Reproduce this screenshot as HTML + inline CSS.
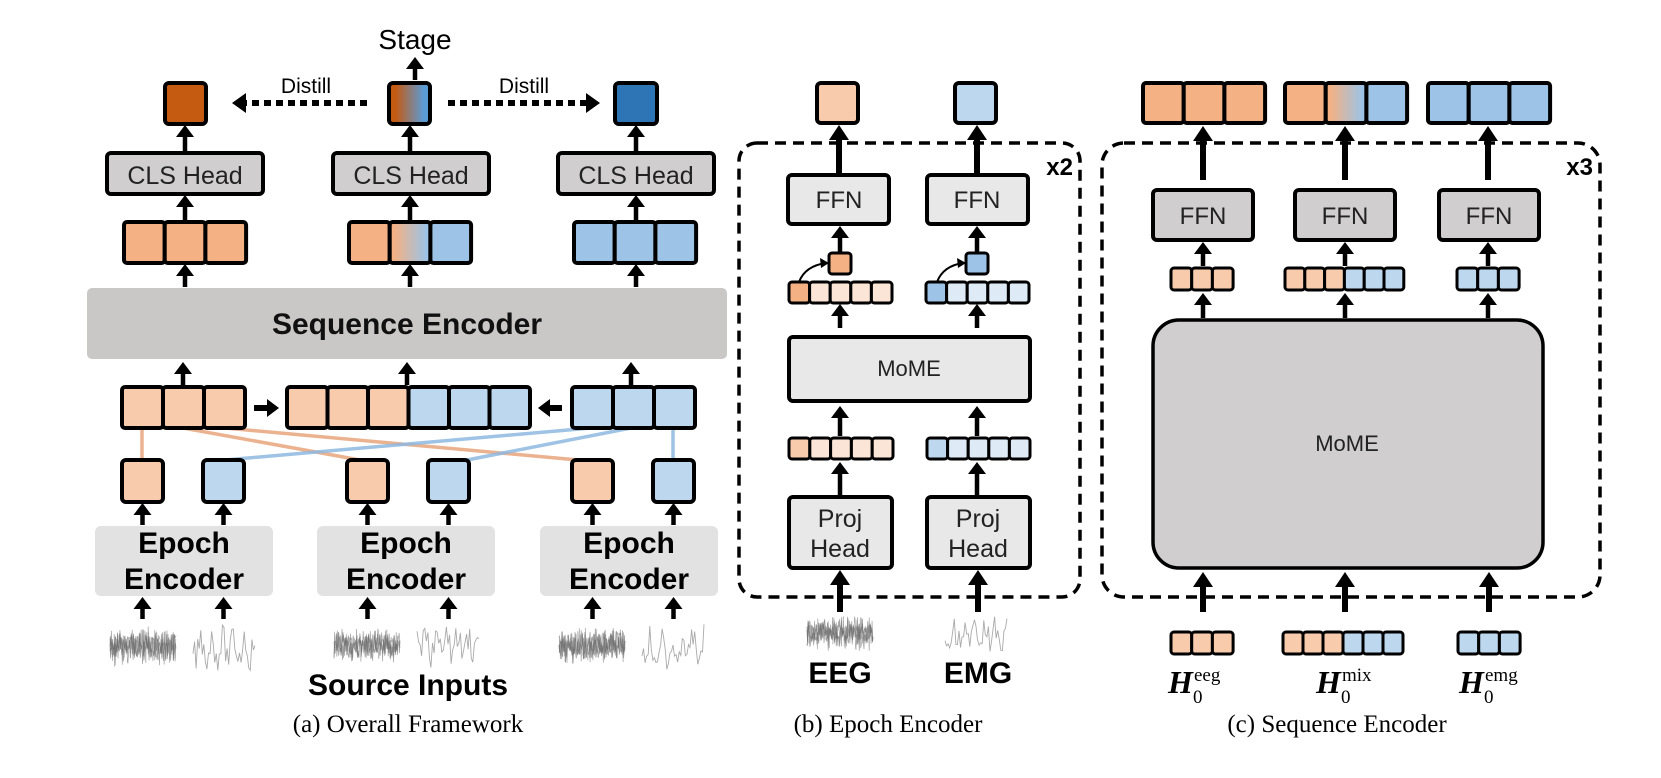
<!DOCTYPE html>
<html><head><meta charset="utf-8"><style>
html,body{margin:0;padding:0;background:#fff;}
svg{display:block;}
text{font-family:"Liberation Sans",sans-serif;}
.ser{font-family:"Liberation Serif",serif;}
</style></head><body>
<svg id="s" width="1661" height="778" viewBox="0 0 1661 778" xmlns="http://www.w3.org/2000/svg">
<defs>
<linearGradient id="gdark" x1="0" x2="1" y1="0" y2="0"><stop offset="0.15" stop-color="#C55A11"/><stop offset="0.85" stop-color="#5B9BD5"/></linearGradient>
<linearGradient id="glight" x1="0" x2="1" y1="0" y2="0"><stop offset="0.1" stop-color="#F4B183"/><stop offset="0.9" stop-color="#9DC3E6"/></linearGradient>
</defs>
<g id="g"></g>
<text x="415" y="49" font-size="28" text-anchor="middle">Stage</text>
<text x="306" y="93" font-size="21" text-anchor="middle">Distill</text>
<text x="524" y="93" font-size="21" text-anchor="middle">Distill</text>
<text x="185" y="184" font-size="25" text-anchor="middle" fill="#222">CLS Head</text>
<text x="411" y="184" font-size="25" text-anchor="middle" fill="#222">CLS Head</text>
<text x="636" y="184" font-size="25" text-anchor="middle" fill="#222">CLS Head</text>
<text x="407" y="334" font-size="30" font-weight="bold" text-anchor="middle" fill="#111">Sequence Encoder</text>
<g font-size="30" font-weight="bold" text-anchor="middle" fill="#000">
<text x="184" y="553">Epoch</text><text x="184" y="589">Encoder</text>
<text x="406" y="553">Epoch</text><text x="406" y="589">Encoder</text>
<text x="629" y="553">Epoch</text><text x="629" y="589">Encoder</text>
</g>
<text x="408" y="695" font-size="30" font-weight="bold" text-anchor="middle">Source Inputs</text>
<text class="ser" x="408" y="732" font-size="25" text-anchor="middle">(a) Overall Framework</text>
<text x="1073" y="175" font-size="24" font-weight="bold" text-anchor="end">x2</text>
<text x="839" y="208" font-size="24" text-anchor="middle" fill="#222">FFN</text>
<text x="977" y="208" font-size="24" text-anchor="middle" fill="#222">FFN</text>
<text x="909" y="376" font-size="22" text-anchor="middle" fill="#222">MoME</text>
<text x="840" y="527" font-size="25" text-anchor="middle" fill="#222">Proj</text>
<text x="840" y="557" font-size="25" text-anchor="middle" fill="#222">Head</text>
<text x="978" y="527" font-size="25" text-anchor="middle" fill="#222">Proj</text>
<text x="978" y="557" font-size="25" text-anchor="middle" fill="#222">Head</text>
<text x="840" y="683" font-size="30" font-weight="bold" text-anchor="middle">EEG</text>
<text x="978" y="683" font-size="30" font-weight="bold" text-anchor="middle">EMG</text>
<text class="ser" x="888" y="732" font-size="25" text-anchor="middle">(b) Epoch Encoder</text>
<text x="1593" y="175" font-size="24" font-weight="bold" text-anchor="end">x3</text>
<text x="1203" y="224" font-size="24" text-anchor="middle" fill="#222">FFN</text>
<text x="1345" y="224" font-size="24" text-anchor="middle" fill="#222">FFN</text>
<text x="1489" y="224" font-size="24" text-anchor="middle" fill="#222">FFN</text>
<text x="1347" y="451" font-size="22" text-anchor="middle" fill="#222">MoME</text>
<g class="ser">
<text x="1168" y="693" font-size="32" font-weight="bold" font-style="italic" class="ser">H</text>
<text x="1193" y="703" font-size="19" class="ser">0</text><text x="1194" y="681" font-size="19" class="ser">eeg</text>
<text x="1316" y="693" font-size="32" font-weight="bold" font-style="italic" class="ser">H</text>
<text x="1341" y="703" font-size="19" class="ser">0</text><text x="1342" y="681" font-size="19" class="ser">mix</text>
<text x="1459" y="693" font-size="32" font-weight="bold" font-style="italic" class="ser">H</text>
<text x="1484" y="703" font-size="19" class="ser">0</text><text x="1485" y="681" font-size="19" class="ser">emg</text>
</g>
<text class="ser" x="1337" y="732" font-size="25" text-anchor="middle">(c) Sequence Encoder</text>
</svg>
<script>
var o='';
function R(x,y,w,h,f,sw,r){o+='<rect x="'+x+'" y="'+y+'" width="'+w+'" height="'+h+'" rx="'+(r==null?4:r)+'" fill="'+f+'" stroke="#000" stroke-width="'+(sw==null?4:sw)+'"/>';}
function toks(x,y,cw,h,cols,sw){for(var i=0;i<cols.length;i++)R(x+i*cw,y,cw,h,cols[i],sw==null?4:sw,3);}
function up(x,y1,y2,w,hw,hl){w=w||4.5;hw=hw||9;hl=hl||12;o+='<line x1="'+x+'" y1="'+y1+'" x2="'+x+'" y2="'+(y2+hl-1)+'" stroke="#000" stroke-width="'+w+'"/><polygon points="'+(x-hw)+','+(y2+hl)+' '+(x+hw)+','+(y2+hl)+' '+x+','+y2+'" fill="#000"/>';}
function hr(x1,x2,y){var d=x2>x1?1:-1;o+='<line x1="'+x1+'" y1="'+y+'" x2="'+(x2-d*10)+'" y2="'+y+'" stroke="#000" stroke-width="6"/><polygon points="'+(x2-d*12)+','+(y-9)+' '+(x2-d*12)+','+(y+9)+' '+x2+','+y+'" fill="#000"/>';}
function L(a,b,c,d,col){o+='<line x1="'+a+'" y1="'+b+'" x2="'+c+'" y2="'+d+'" stroke="'+col+'" stroke-width="3.5" opacity="0.85"/>';}
var s=7;function rnd(){s=(s*9301+49297)%233280;return s/233280;}
function wave(cx,y0,y1,dense){var w=dense?66:62,n=dense?140:40,pts=[],mid=(y0+y1)/2,a=(y1-y0)/2;
 for(var k=0;k<(dense?3:1);k++){pts=[];for(var i=0;i<=n;i++){var x=cx-w/2+w*i/n;var v=dense?(rnd()*2-1)*a*(0.35+0.65*rnd()):(Math.sin(i*0.9)*0.4+(rnd()*2-1)*0.6)*a;pts.push(x.toFixed(1)+','+(mid+v).toFixed(1));}
 o+='<polyline points="'+pts.join(' ')+'" fill="none" stroke="'+(dense?'#666':'#aaa')+'" stroke-width="'+(dense?0.7:0.9)+'" opacity="'+(dense?0.6:1)+'"/>';}}
var O1='#F4B183',B1='#9DC3E6',O2='#F8CBAD',B2='#BDD7EE',O3='#FBE5D6',B3='#DEEBF7';
up(415,80,57);
R(165,83,41,41,'#C55A11');R(389,83,41,41,'url(#gdark)');R(615,83,42,41,'#2E75B6');
o+='<line x1="367" y1="103" x2="246" y2="103" stroke="#000" stroke-width="6" stroke-dasharray="7,5"/><polygon points="246,93 246,113 232,103" fill="#000"/>';
o+='<line x1="448" y1="103" x2="586" y2="103" stroke="#000" stroke-width="6" stroke-dasharray="7,5"/><polygon points="586,93 586,113 600,103" fill="#000"/>';
up(185,152,125);up(410,152,125);up(636,152,125);
R(107,153,156,41,'#D0CECE');R(333,153,156,41,'#D0CECE');R(558,153,156,41,'#D0CECE');
up(185,221,195);up(410,221,195);up(636,221,195);
toks(124,222,40.7,41,[O1,O1,O1]);toks(349,222,40.7,41,[O1,'url(#glight)',B1]);toks(574,222,40.7,41,[B1,B1,B1]);
up(185,287,264);up(410,287,264);up(636,287,264);
o+='<rect x="87" y="288" width="640" height="71" rx="5" fill="#C9C8C7"/>';
up(183,385,362);up(407,385,362);up(631,385,362);
L(142,428,142,460,'#E8A57C');L(183,428,360,460,'#E8A57C');L(225,428,578,460,'#E8A57C');
L(225,460,591,428,'#8FB9E0');L(467,460,631,428,'#8FB9E0');L(673,428,673,460,'#8FB9E0');
toks(122,387,41,41,[O2,O2,O2]);toks(287,387,40.5,41,[O2,O2,O2,B2,B2,B2]);toks(572,387,41,41,[B2,B2,B2]);
hr(254,279,408);hr(562,538,408);
[[122,O2],[203,B2],[347,O2],[428,B2],[572,O2],[653,B2]].forEach(function(p){R(p[0],460,41,42,p[1]);up(p[0]+20.5,525,503);up(p[0]+20.5,619,597);});
o+='<rect x="95" y="526" width="178" height="70" rx="6" fill="#E2E2E2"/><rect x="317" y="526" width="178" height="70" rx="6" fill="#E2E2E2"/><rect x="540" y="526" width="178" height="70" rx="6" fill="#E2E2E2"/>';
wave(143,626,668,1);wave(224,624,672,0);wave(367,628,664,1);wave(448,622,668,0);wave(592,626,666,1);wave(673,624,670,0);
o+='<rect x="739" y="143" width="341" height="454" rx="18" fill="none" stroke="#000" stroke-width="3.5" stroke-dasharray="11,7"/>';
R(817,83,41,40,O2);R(955,83,41,40,B2);
up(839,175,125,6,10,15);up(977,175,125,6,10,15);
R(788,175,101,49,'#E8E8E8');R(927,175,101,49,'#E8E8E8');
up(840,253,226);up(977,253,226);
R(829,253,22,21,O1,3,3);R(966,253,22,21,B1,3,3);
o+='<path d="M799,282 Q805,266 826,263" fill="none" stroke="#000" stroke-width="2"/><polygon points="829,263 820,258 821,268" fill="#000"/>';
o+='<path d="M937,282 Q943,266 963,263" fill="none" stroke="#000" stroke-width="2"/><polygon points="966,263 957,258 958,268" fill="#000"/>';
toks(789,282,20.6,21,[O1,O3,O3,O3,O3],3);toks(926,282,20.6,21,[B1,B3,B3,B3,B3],3);
up(840,328,304);up(977,328,304);
R(789,337,241,64,'#E8E8E8');
up(840,436,406);up(977,436,406);
toks(789,438,20.8,21,[O2,O3,O3,O3,O3],3);toks(927,438,20.6,21,[B2,B3,B3,B3,B3],3);
up(840,496,462);up(977,496,462);
R(789,497,103,71,'#E8E8E8');R(927,497,103,71,'#E8E8E8');
up(840,612,570,6,10,15);up(978,612,570,6,10,15);
wave(840,614,652,1);wave(976,612,656,0);
o+='<rect x="1102" y="143" width="498" height="454" rx="22" fill="none" stroke="#000" stroke-width="3.5" stroke-dasharray="11,7"/>';
toks(1143,83,40.7,40,[O1,O1,O1]);toks(1285,83,40.7,40,[O1,'url(#glight)',B1]);toks(1428,83,40.7,40,[B1,B1,B1]);
up(1203,180,126,6,10,15);up(1345,180,126,6,10,15);up(1488,180,126,6,10,15);
R(1153,190,100,50,'#D0CECE');R(1295,190,100,50,'#D0CECE');R(1439,190,100,50,'#D0CECE');
up(1203,266,242);up(1345,266,242);up(1488,266,242);
toks(1171,268,20.7,22,[O2,O2,O2],3);toks(1285,268,19.8,22,[O2,O2,O2,B2,B2,B2],3);toks(1457,268,20.7,22,[B2,B2,B2],3);
up(1203,318,293);up(1345,318,293);up(1488,318,293);
R(1153,320,390,248,'#D0CECE',3.5,26);
up(1203,612,572,6,10,15);up(1345,612,572,6,10,15);up(1489,612,572,6,10,15);
toks(1171,632,20.7,22,[O2,O2,O2],3);toks(1283,632,20,22,[O2,O2,O2,B2,B2,B2],3);toks(1458,632,20.7,22,[B2,B2,B2],3);
document.getElementById('g').innerHTML=o;
</script>
</body></html>
